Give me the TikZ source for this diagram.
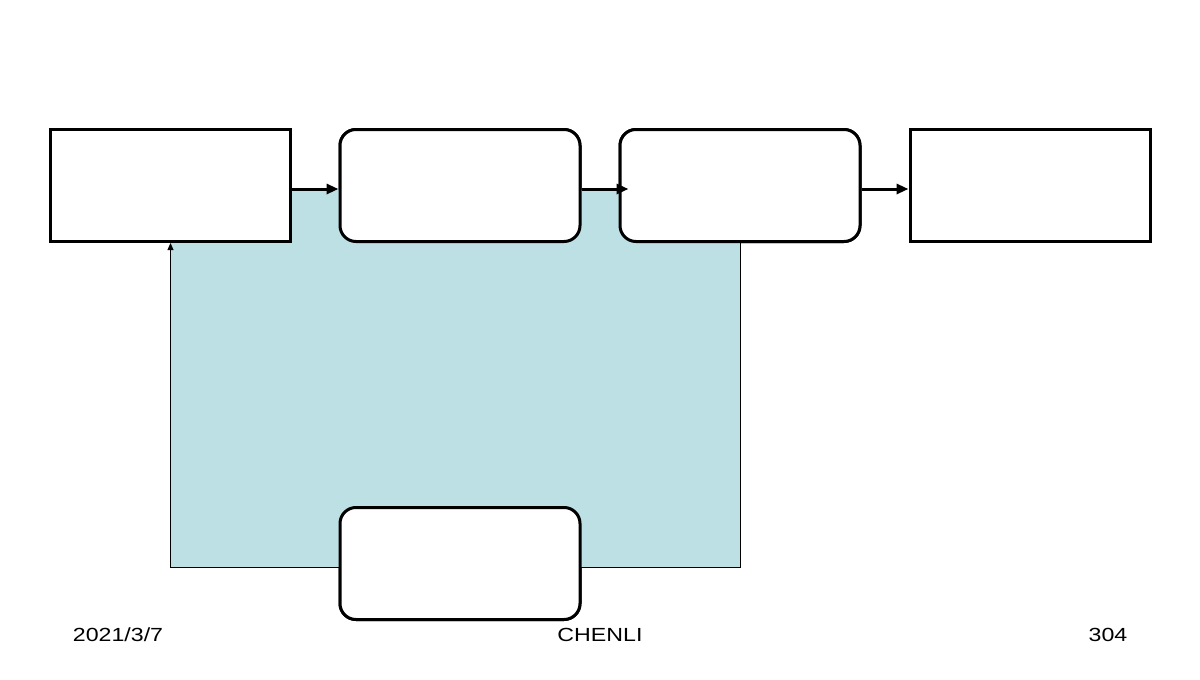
\documentclass[tikz,border=0pt]{standalone}
\usepackage{fontspec}
\setmainfont{Liberation Sans}
\usetikzlibrary{arrows.meta}
\definecolor{loopfill}{HTML}{BCE0E4}
\tikzset{
  sqbox/.style={draw=black, fill=white, line width=3pt, minimum width=240pt, minimum height=112pt, inner sep=0pt},
  rdbox/.style={sqbox, rounded corners=16pt},
  flow/.style={line width=3pt, -{Triangle[length=12pt,width=10pt]}},
  feedback/.style={line width=0.8pt, -{Triangle[length=7pt,width=6pt]}},
  foot/.style={font=\fontsize{19}{21}\selectfont, inner sep=0pt}
}
\begin{document}
\begin{tikzpicture}[x=1pt,y=-1pt]
\useasboundingbox (0,0) rectangle (1200,680);
% boxes (positions only; drawn later)
\path node[sqbox] (b1) at (170.5,185.5) {}
      node[rdbox] (b2) at (460,185.5) {}
      node[rdbox] (b3) at (740,185.5) {}
      node[sqbox] (b4) at (1030,185.5) {}
      node[rdbox] (b5) at (460,563.5) {};
\coordinate (fb) at (740,567);
% cyan region
\fill[loopfill] (170.5,190) rectangle (fb);
% feedback loop
\draw[feedback] (b3.south) -- (fb) -| (b1.south);
% redraw boxes on top
\node[sqbox] at (b1) {};
\node[rdbox] at (b2) {};
\node[rdbox] at (b3) {};
\node[sqbox] at (b4) {};
\node[rdbox] at (b5) {};
% forward arrows
\draw[flow] ([yshift=-3.5pt]b1.east) -- ([yshift=-3.5pt]b2.west);
\draw[flow] ([yshift=-3.5pt]b2.east) -- ([yshift=-3.5pt,xshift=10pt]b3.west);
\draw[flow] ([yshift=-3.5pt]b3.east) -- ([yshift=-3.5pt]b4.west);
% footer
\node[foot] (date) at (118,635) {\scalebox{1.22}[1]{2021/3/7}};
\node[foot] (auth) at (600,635) {\scalebox{1.22}[1]{CHENLI}};
\node[foot] (page) at (1108,635) {\scalebox{1.22}[1]{304}};
\end{tikzpicture}
\end{document}
